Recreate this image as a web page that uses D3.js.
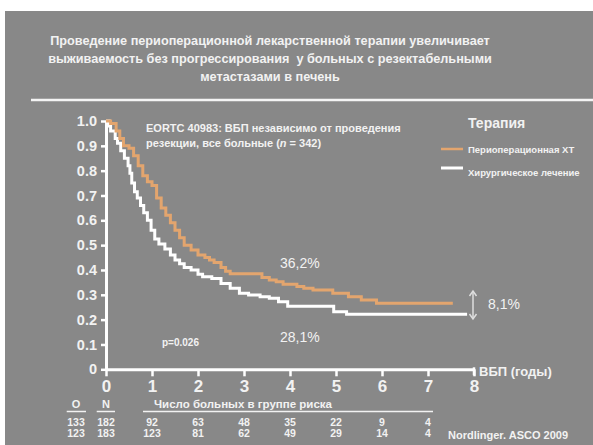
<!DOCTYPE html>
<html>
<head>
<meta charset="utf-8">
<script src="https://cdn.jsdelivr.net/npm/d3@7"></script>
<style>
  body { margin: 0; background: #fff; }
  text { font-family: "Liberation Sans", Arial, sans-serif; fill: #f2f2f2; white-space: pre; }
</style>
</head>
<body>
<div id="chart"></div>
<script>
// Kaplan-Meier steps (years, PFS)
const chemoTimes = [0, 0.1, 0.22, 0.3, 0.38, 0.5, 0.6, 0.7, 0.8, 0.9, 1.0, 1.1, 1.2, 1.3, 1.4, 1.5, 1.6, 1.7,
  1.85, 2.0, 2.15, 2.25, 2.35, 2.5, 2.6, 2.7, 3.39, 3.55, 3.7, 3.85, 4.15, 4.3, 4.5, 4.93, 5.27, 5.55, 5.88, 7.54];
const chemoSurv = [1.0, 0.99, 0.96, 0.93, 0.90, 0.89, 0.86, 0.82, 0.78, 0.755, 0.74, 0.69, 0.65, 0.62, 0.59, 0.56,
  0.53, 0.50, 0.48, 0.46, 0.45, 0.44, 0.43, 0.41, 0.395, 0.385, 0.37, 0.36, 0.353, 0.343, 0.333, 0.326, 0.319,
  0.306, 0.292, 0.279, 0.266, 0.266];

const surgTimes = [0, 0.07, 0.1, 0.2, 0.25, 0.32, 0.4, 0.48, 0.52, 0.56, 0.62, 0.68, 0.75, 0.82, 0.9, 0.98, 1.06,
  1.15, 1.28, 1.4, 1.5, 1.6, 1.7, 1.85, 2.0, 2.1, 2.3, 2.5, 2.7, 2.9, 3.1, 3.35, 3.55, 3.75, 3.95, 4.95, 5.23, 7.85];
const surgSurv = [1.0, 0.98, 0.96, 0.93, 0.91, 0.88, 0.85, 0.82, 0.79, 0.75, 0.715, 0.69, 0.66, 0.63, 0.60, 0.56,
  0.525, 0.505, 0.485, 0.46, 0.44, 0.425, 0.41, 0.40, 0.383, 0.373, 0.366, 0.346, 0.326, 0.306, 0.299, 0.292,
  0.286, 0.272, 0.254, 0.232, 0.222, 0.222];

// Number at risk
const riskYears = [1, 2, 3, 4, 5, 6, 7];
const riskChemo = [92, 63, 48, 35, 22, 9, 4];
const riskSurg = [123, 81, 62, 49, 29, 14, 4];
const eventsON = [["133", "182"], ["123", "183"]];

const yTicks = [0, 0.1, 0.2, 0.3, 0.4, 0.5, 0.6, 0.7, 0.8, 0.9, 1.0];
const xTicks = [0, 1, 2, 3, 4, 5, 6, 7, 8];

const titleLines = [
  "Проведение периоперационной лекарственной терапии увеличивает",
  "выживаемость без прогрессирования  у больных с резектабельными",
  "метастазами в печень"
];

const width = 593, height = 445;
const orange = "#e3a56e";

const svg = d3.select("#chart").append("svg")
  .attr("width", width)
  .attr("height", height);

// slide background
svg.append("rect")
  .attr("x", 5).attr("y", 11)
  .attr("width", width - 5).attr("height", height - 11)
  .attr("fill", "#888888");

// title
svg.selectAll(".title")
  .data(titleLines)
  .enter().append("text")
    .attr("class", "title")
    .attr("x", 270)
    .attr("y", (d, i) => 45 + i * 18)
    .attr("text-anchor", "middle")
    .attr("font-size", "12.7px")
    .attr("font-weight", "bold")
    .text(d => d);

svg.append("line")
  .attr("x1", 31).attr("x2", width)
  .attr("y1", 100).attr("y2", 100)
  .attr("stroke", "#f4f4f4")
  .attr("stroke-width", 2.5);

// scales
const x = d3.scaleLinear().domain([0, 8]).range([106, 474]);
const y = d3.scaleLinear().domain([0, 1]).range([369.3, 121]);

// y axis
const gy = svg.append("g")
  .attr("transform", "translate(" + x(0) + ",0)")
  .call(d3.axisLeft(y)
    .tickValues(yTicks)
    .tickSize(5)
    .tickSizeOuter(0)
    .tickPadding(4)
    .tickFormat(d => d === 0 ? "0" : d3.format(".1f")(d)));

// x axis
const gx = svg.append("g")
  .attr("transform", "translate(0," + y(0) + ")")
  .call(d3.axisBottom(x)
    .tickValues(xTicks)
    .tickSize(7)
    .tickSizeOuter(0)
    .tickPadding(4));

[gx, gy].forEach(g => {
  g.select(".domain").attr("stroke", "#fff").attr("stroke-width", 3);
  g.selectAll(".tick line").attr("stroke", "#fff").attr("stroke-width", 2.5);
  g.selectAll(".tick text")
    .attr("fill", "#f2f2f2")
    .style("font-family", "'Liberation Sans', Arial, sans-serif")
    .attr("font-weight", "bold");
});
gy.selectAll(".tick text").attr("font-size", "14.5px");
gx.selectAll(".tick text").attr("font-size", "17px");

// small hook at the end of x axis
svg.append("line")
  .attr("x1", x(8)).attr("x2", x(8))
  .attr("y1", y(0) - 2).attr("y2", y(0) + 6)
  .attr("stroke", "#fff").attr("stroke-width", 2.5);

svg.append("text")
  .attr("x", 479).attr("y", y(0) + 7)
  .attr("font-size", "13px")
  .attr("font-weight", "bold")
  .text("ВБП (годы)");

// curves
const line = d3.line()
  .x(d => x(d[0]))
  .y(d => y(d[1]))
  .curve(d3.curveStepAfter);

svg.append("path")
  .datum(surgTimes.map((t, i) => [t, surgSurv[i]]))
  .attr("d", line)
  .attr("fill", "none")
  .attr("stroke", "#ffffff")
  .attr("stroke-width", 3);

svg.append("path")
  .datum(chemoTimes.map((t, i) => [t, chemoSurv[i]]))
  .attr("d", line)
  .attr("fill", "none")
  .attr("stroke", orange)
  .attr("stroke-width", 3);

// annotations
svg.append("text")
  .attr("x", 146).attr("y", 132)
  .attr("font-size", "11px").attr("font-weight", "bold")
  .text("EORTC 40983: ВБП независимо от проведения");
const t2 = svg.append("text")
  .attr("x", 146).attr("y", 147)
  .attr("font-size", "11px").attr("font-weight", "bold");
t2.append("tspan").text("резекции, все больные (");
t2.append("tspan").attr("font-style", "italic").text("n");
t2.append("tspan").text(" = 342)");

svg.append("text")
  .attr("x", 162).attr("y", 346)
  .attr("font-size", "10px").attr("font-weight", "bold")
  .text("p=0.026");

svg.append("text").attr("x", 280).attr("y", 268)
  .attr("font-size", "14px").text("36,2%");
svg.append("text").attr("x", 280).attr("y", 342)
  .attr("font-size", "14px").text("28,1%");
svg.append("text").attr("x", 488).attr("y", 309)
  .attr("font-size", "14px").text("8,1%");

// double arrow between final levels
const ax = 473;
svg.append("line")
  .attr("x1", ax).attr("x2", ax)
  .attr("y1", 292).attr("y2", 318)
  .attr("stroke", "#dedede").attr("stroke-width", 1.5);
svg.append("path")
  .attr("d", "M" + (ax - 3.5) + ",296 L" + ax + ",291 L" + (ax + 3.5) + ",296" +
             "M" + (ax - 3.5) + ",314 L" + ax + ",319 L" + (ax + 3.5) + ",314")
  .attr("fill", "none")
  .attr("stroke", "#dedede").attr("stroke-width", 1.5);

// legend
svg.append("text")
  .attr("x", 468).attr("y", 128)
  .attr("font-size", "14px").attr("font-weight", "bold")
  .text("Терапия");

const legend = [
  { label: "Периоперационная ХТ", color: orange, w: 2.5, y: 149, ty: 152.5 },
  { label: "Хирургическое лечение", color: "#ffffff", w: 3, y: 168, ty: 175.5 }
];
legend.forEach(l => {
  svg.append("line")
    .attr("x1", 441).attr("x2", 463)
    .attr("y1", l.y).attr("y2", l.y)
    .attr("stroke", l.color).attr("stroke-width", l.w);
  svg.append("text")
    .attr("x", 468).attr("y", l.ty)
    .attr("font-size", "9.5px").attr("font-weight", "bold")
    .text(l.label);
});

// risk table
const headerY = 408;
[["O", 76, 66.7, 86], ["N", 106, 96.7, 115]].forEach(h => {
  svg.append("text")
    .attr("x", h[1]).attr("y", headerY)
    .attr("text-anchor", "middle")
    .attr("font-size", "11px").attr("font-weight", "bold")
    .text(h[0]);
  svg.append("line")
    .attr("x1", h[2]).attr("x2", h[3])
    .attr("y1", 411.5).attr("y2", 411.5)
    .attr("stroke", "#f2f2f2").attr("stroke-width", 1.5);
});
svg.append("text")
  .attr("x", 154).attr("y", headerY)
  .attr("font-size", "11.5px").attr("font-weight", "bold")
  .text("Число больных в группе риска");
svg.append("line")
  .attr("x1", 143).attr("x2", 433)
  .attr("y1", 411.5).attr("y2", 411.5)
  .attr("stroke", "#f2f2f2").attr("stroke-width", 1.5);

[riskChemo, riskSurg].forEach((row, r) => {
  const ry = 425.5 + r * 11;
  svg.append("text")
    .attr("x", 76).attr("y", ry)
    .attr("text-anchor", "middle")
    .attr("font-size", "10.5px").attr("font-weight", "bold")
    .text(eventsON[r][0]);
  svg.append("text")
    .attr("x", 106).attr("y", ry)
    .attr("text-anchor", "middle")
    .attr("font-size", "10.5px").attr("font-weight", "bold")
    .text(eventsON[r][1]);
  svg.selectAll(".risk" + r)
    .data(row)
    .enter().append("text")
      .attr("class", "risk" + r)
      .attr("x", (d, i) => x(riskYears[i]))
      .attr("y", ry)
      .attr("text-anchor", "middle")
      .attr("font-size", "10.5px").attr("font-weight", "bold")
      .text(d => d);
});

svg.append("text")
  .attr("x", 448).attr("y", 439)
  .attr("font-size", "11px").attr("font-weight", "bold")
  .text("Nordlinger. ASCO 2009");
</script>
</body>
</html>
